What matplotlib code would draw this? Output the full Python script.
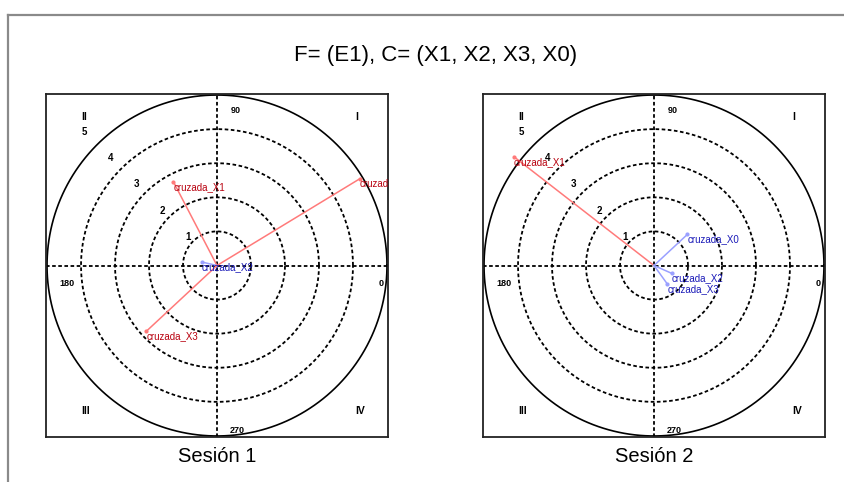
import matplotlib
matplotlib.use("Agg")
import matplotlib.pyplot as plt
from matplotlib.lines import Line2D
import numpy as np

plt.rcParams['font.family'] = ['Liberation Sans', 'DejaVu Sans']

# ---------- datos ----------
titulo = "F= (E1), C= (X1, X2, X3, X0)"
sesiones = ["Sesión 1", "Sesión 2"]

# coordenadas de cada vector (x, y) por sesion
etiq_s1 = ["cruzada_X1", "cruzada_X2", "cruzada_X3", "cruzada_X0"]
x_s1 = [-1.28, -0.44, -2.08, 4.21]
y_s1 = [2.45, 0.10, -1.93, 2.55]

etiq_s2 = ["cruzada_X1", "cruzada_X0", "cruzada_X2", "cruzada_X3"]
x_s2 = [-4.12, 0.98, 0.52, 0.39]
y_s2 = [3.19, 0.91, -0.23, -0.54]

anillos = [1, 2, 3, 4]
radio_max = 5
umbral = 2.0  # vectores largos en rojo, cortos en azul

angulos = ["0", "90", "180", "270"]
cuadrantes = ["I", "II", "III", "IV"]

datos = [(etiq_s1, x_s1, y_s1), (etiq_s2, x_s2, y_s2)]

# ---------- figura ----------
fig = plt.figure(figsize=(8.45, 4.82), dpi=100)
fig.patch.set_facecolor('white')

# marco gris de la ventana
fig.add_artist(Line2D([8/845, 1], [1 - 15/482, 1 - 15/482], color='#8a8a8a', lw=1.6,
                      transform=fig.transFigure))
fig.add_artist(Line2D([8/845, 8/845], [0, 1 - 15/482], color='#8a8a8a', lw=1.6,
                      transform=fig.transFigure))

fig.text(436/845, 1 - 56/482, titulo, ha='center', va='center', fontsize=16)

lim = 5.03
pos_x = [46/845, 483/845]
ancho = 342/845
alto = 343/482
abajo = 1 - 437/482

rojo_l, rojo_t = '#ff7a7a', '#b8000e'
azul_l, azul_t = '#9aa0ff', '#1a1ab8'
guion = (0, (2.0, 1.4))

# posiciones de etiquetas de angulos y cuadrantes
pos_ang = {"0": (4.82, -0.54), "90": (0.54, 4.54), "180": (-4.42, -0.54), "270": (0.59, -4.83)}
pos_cua = {"I": (4.1, 4.36), "II": (-3.92, 4.36), "III": (-3.87, -4.26), "IV": (4.22, -4.26)}

t = np.linspace(0, 2 * np.pi, 400)

for k, (etiq, xs, ys) in enumerate(datos):
    ax = fig.add_axes([pos_x[k], abajo, ancho, alto])
    ax.set_xlim(-lim, lim)
    ax.set_ylim(-lim, lim)
    ax.set_xticks([])
    ax.set_yticks([])
    for s in ax.spines.values():
        s.set_linewidth(1.3)
        s.set_color('#222222')

    for r in anillos:
        ax.plot(r * np.cos(t), r * np.sin(t), color='black', lw=1.3, ls=guion)
    ax.plot(radio_max * np.cos(t), radio_max * np.sin(t), color='black', lw=1.2)
    ax.axhline(0, color='black', lw=1.3, ls=guion)
    ax.axvline(0, color='black', lw=1.3, ls=guion)

    # numeros de los anillos sobre la diagonal de 135 grados
    for r in anillos + [radio_max]:
        d = 1.08 * r + 0.12
        ax.text(d * np.cos(np.radians(135)), d * np.sin(np.radians(135)), str(r),
                ha='center', va='center', fontsize=7, fontweight='bold')

    for a in angulos:
        ax.text(*pos_ang[a], a, ha='center', va='center', fontsize=6.5, fontweight='bold')
    for c in cuadrantes:
        ax.text(*pos_cua[c], c, ha='center', va='center', fontsize=7.5, fontweight='bold')

    for e, x, y in zip(etiq, xs, ys):
        largo = np.hypot(x, y) > umbral
        cl = rojo_l if largo else azul_l
        ct = rojo_t if largo else azul_t
        ax.plot([0, x], [0, y], color=cl, lw=1.1)
        ax.plot([x], [y], 'o', color=cl, ms=2)
        ax.text(x, y, e, ha='left', va='top', fontsize=7, color=ct, clip_on=True)

    fig.text(pos_x[k] + ancho / 2, 1 - 457/482, sesiones[k], ha='center', va='center',
             fontsize=14.5)

fig.savefig("out.png", dpi=100, facecolor='white')
